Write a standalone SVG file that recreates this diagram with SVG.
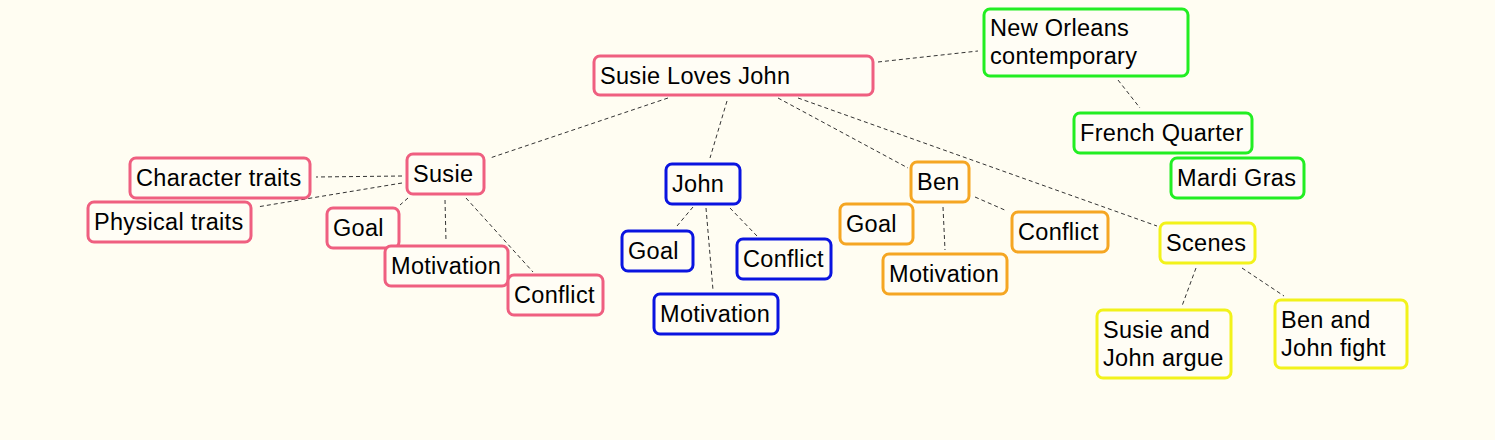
<svg xmlns="http://www.w3.org/2000/svg" width="1495" height="440" viewBox="0 0 1495 440">
<style>
.n rect{fill:#fffdf5;stroke-width:3;rx:6;ry:6}
.pink rect{stroke:#ef5f80}
.blue rect{stroke:#0a14e0}
.orange rect{stroke:#f5a623}
.green rect{stroke:#22ee22}
.yellow rect{stroke:#f2f21a}
.n text{font-family:"Liberation Sans",Arial,sans-serif;font-size:23.5px;letter-spacing:0.3px;fill:#000}
#connectors line{stroke:#333;stroke-width:1;stroke-dasharray:4 3;fill:none}
</style>
<rect x="0" y="0" width="1495" height="440" fill="#fffdf2"/>
<g id="connectors">
<line x1="878" y1="62" x2="978" y2="51"/>
<line x1="668" y1="98" x2="490" y2="158"/>
<line x1="727" y1="101" x2="710" y2="158"/>
<line x1="778" y1="98" x2="908" y2="168"/>
<line x1="798" y1="98" x2="1157" y2="226"/>
<line x1="1118" y1="80" x2="1140" y2="108"/>
<line x1="402" y1="176" x2="316" y2="177"/>
<line x1="402" y1="183" x2="257" y2="207"/>
<line x1="408" y1="198" x2="400" y2="205"/>
<line x1="445" y1="200" x2="446" y2="241"/>
<line x1="466" y1="198" x2="533" y2="272"/>
<line x1="693" y1="207" x2="677" y2="226"/>
<line x1="706" y1="208" x2="713" y2="290"/>
<line x1="730" y1="208" x2="757" y2="236"/>
<line x1="943" y1="207" x2="945" y2="250"/>
<line x1="975" y1="197" x2="1007" y2="211"/>
<line x1="1196" y1="268" x2="1182" y2="306"/>
<line x1="1242" y1="268" x2="1284" y2="296"/>
</g>
<g id="slj" class="n pink"><rect x="594" y="56" width="279" height="39"/><text x="600" y="84">Susie Loves John</text></g>
<g id="neworleans" class="n green"><rect x="984" y="9" width="204" height="67"/><text x="990" y="36">New Orleans</text><text x="990" y="64">contemporary</text></g>
<g id="frenchquarter" class="n green"><rect x="1074" y="113" width="178" height="40"/><text x="1080" y="141">French Quarter</text></g>
<g id="mardigras" class="n green"><rect x="1171" y="158" width="133" height="40"/><text x="1177" y="186">Mardi Gras</text></g>
<g id="susie" class="n pink"><rect x="407" y="154" width="77" height="40"/><text x="413" y="182">Susie</text></g>
<g id="chartraits" class="n pink"><rect x="130" y="158" width="180" height="40"/><text x="136" y="186">Character traits</text></g>
<g id="phystraits" class="n pink"><rect x="88" y="202" width="163" height="40"/><text x="94" y="230">Physical traits</text></g>
<g id="susie-goal" class="n pink"><rect x="327" y="208" width="72" height="40"/><text x="333" y="236">Goal</text></g>
<g id="susie-motivation" class="n pink"><rect x="385" y="246" width="123" height="40"/><text x="391" y="274">Motivation</text></g>
<g id="susie-conflict" class="n pink"><rect x="508" y="275" width="95" height="40"/><text x="514" y="303">Conflict</text></g>
<g id="john" class="n blue"><rect x="666" y="164" width="74" height="40"/><text x="672" y="192">John</text></g>
<g id="john-goal" class="n blue"><rect x="622" y="231" width="71" height="40"/><text x="628" y="259">Goal</text></g>
<g id="john-conflict" class="n blue"><rect x="737" y="239" width="94" height="40"/><text x="743" y="267">Conflict</text></g>
<g id="john-motivation" class="n blue"><rect x="654" y="294" width="124" height="40"/><text x="660" y="322">Motivation</text></g>
<g id="ben" class="n orange"><rect x="911" y="162" width="58" height="40"/><text x="917" y="190">Ben</text></g>
<g id="ben-goal" class="n orange"><rect x="840" y="204" width="73" height="40"/><text x="846" y="232">Goal</text></g>
<g id="ben-conflict" class="n orange"><rect x="1012" y="212" width="96" height="40"/><text x="1018" y="240">Conflict</text></g>
<g id="ben-motivation" class="n orange"><rect x="883" y="254" width="124" height="40"/><text x="889" y="282">Motivation</text></g>
<g id="scenes" class="n yellow"><rect x="1160" y="223" width="95" height="40"/><text x="1166" y="251">Scenes</text></g>
<g id="scene-argue" class="n yellow"><rect x="1097" y="310" width="134" height="68"/><text x="1103" y="338">Susie and</text><text x="1103" y="366">John argue</text></g>
<g id="scene-fight" class="n yellow"><rect x="1275" y="300" width="132" height="68"/><text x="1281" y="328">Ben and</text><text x="1281" y="356">John fight</text></g>
</svg>
